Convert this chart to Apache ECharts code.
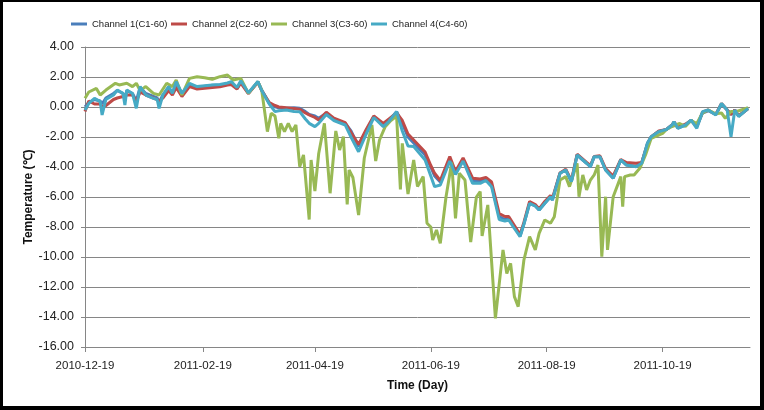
<!DOCTYPE html>
<html><head><meta charset="utf-8">
<script src="https://cdn.jsdelivr.net/npm/echarts@6/dist/echarts.min.js"></script>
<style>html,body{margin:0;padding:0;background:#fff}#c{width:764px;height:410px}</style>
</head><body><div id="c"></div>
<script>
// Day offsets from 2010-12-19 (shared by channels 1, 2, 4)
const mainDays = [
  0,2,5,8,9,11,15,17,20,21,
  22,25,27,29,32,36,38,39,41,44,
  46,48,51,55,59,60,67,71,75,77,
  80,82,86,91,93,97,100,102,106,110,
  113,116,118,121,123,127,131,137,140,144,
  148,152,157,160,164,167,170,173,179,182,
  184,187,192,195,199,204,208,211,214,218,
  221,223,226,229,231,234,237,239,242,245,
  246,250,253,256,259,264,266,268,271,274,
  278,282,285,290,293,296,298,302,306,309,
  310,312,316,319,322,325,328,332,335,338,
  340,342,344,349
];
const ch1 = [
  0.0,0.3,0.5,0.4,0.2,0.6,0.9,1.1,0.9,0.5,
  1.1,0.9,0.4,1.3,0.9,0.7,0.6,0.3,0.8,1.3,
  0.9,1.6,0.9,1.5,1.3,1.36,1.45,1.47,1.5,1.58,
  1.24,1.69,0.91,1.69,1.13,0.24,0.02,-0.05,-0.09,-0.05,
  -0.09,-0.31,-0.5,-0.6,-0.75,-0.42,-0.8,-1.09,-1.6,-2.64,
  -1.6,-0.64,-1.25,-0.9,-0.31,-1.1,-2.0,-2.4,-3.2,-4.0,
  -4.6,-5.0,-3.5,-4.42,-3.5,-4.9,-4.9,-4.87,-5.2,-7.3,
  -7.5,-7.4,-8.0,-8.6,-7.8,-6.42,-6.6,-6.87,-6.42,-5.98,
  -6.2,-4.42,-4.2,-4.98,-3.2,-3.75,-3.98,-3.31,-3.31,-4.2,
  -4.75,-3.53,-3.87,-3.95,-3.75,-2.42,-1.98,-1.64,-1.5,-1.2,
  -1.0,-1.4,-1.2,-0.87,-1.3,-0.4,-0.25,-0.5,0.2,-0.2,
  -0.5,-0.2,-0.6,-0.1
];
const ch2 = [
  -0.3,0.4,0.2,0.2,0.0,0.1,0.5,0.6,0.7,0.6,
  0.8,0.8,0.36,1.0,0.8,0.6,0.5,0.36,0.6,1.1,
  0.8,1.3,0.7,1.36,1.2,1.24,1.3,1.35,1.47,1.5,
  1.2,1.6,0.9,1.65,1.1,0.3,0.1,0.0,-0.05,-0.1,
  -0.15,-0.4,-0.53,-0.7,-0.87,-0.35,-0.75,-1.05,-1.7,-2.5,
  -1.5,-0.6,-1.1,-0.8,-0.4,-0.9,-1.8,-2.2,-3.0,-3.9,
  -4.42,-4.9,-3.3,-4.3,-3.4,-4.75,-4.8,-4.7,-5.0,-7.1,
  -7.3,-7.3,-7.9,-8.5,-7.7,-6.3,-6.5,-6.8,-6.3,-5.9,
  -6.1,-4.4,-4.15,-4.9,-3.15,-3.7,-3.9,-3.3,-3.25,-4.1,
  -4.6,-3.5,-3.7,-3.75,-3.7,-2.5,-2.0,-1.6,-1.5,-1.2,
  -1.0,-1.35,-1.15,-0.9,-1.3,-0.35,-0.2,-0.5,0.24,-0.2,
  -0.5,-0.2,-0.6,-0.1
];
const ch4 = [
  -0.2,0.24,0.58,0.36,-0.53,0.5,0.8,1.13,0.91,0.13,
  1.13,0.9,-0.09,1.36,0.8,0.58,0.5,-0.09,0.8,1.36,
  0.91,1.69,0.91,1.58,1.36,1.4,1.47,1.5,1.6,1.69,
  1.3,1.75,0.95,1.7,1.1,0.2,-0.31,-0.25,-0.2,-0.3,
  -0.31,-0.8,-1.09,-1.31,-1.09,-0.5,-0.9,-1.2,-2.0,-2.98,
  -1.8,-0.7,-1.31,-0.95,-0.31,-1.6,-2.6,-2.64,-3.53,-4.6,
  -5.31,-5.2,-3.6,-4.5,-3.6,-5.09,-5.09,-4.9,-5.31,-7.5,
  -7.6,-7.53,-8.1,-8.64,-7.8,-6.42,-6.6,-6.87,-6.42,-5.98,
  -6.2,-4.42,-4.2,-4.98,-3.2,-3.75,-3.98,-3.31,-3.31,-4.2,
  -4.75,-3.53,-3.87,-3.98,-3.75,-2.42,-1.98,-1.64,-1.5,-1.2,
  -0.98,-1.42,-1.2,-0.87,-1.42,-0.31,-0.2,-0.53,0.24,-0.2,
  -1.98,-0.2,-0.64,-0.09
];
// Channel 3 has its own sampling days
const c3Days = [
  0,2,6,8,11,16,18,22,25,27,
  29,32,36,39,43,46,48,51,55,59,
  63,67,71,75,78,82,86,91,93,96,
  98,100,102,103,105,107,109,111,113,115,
  116,118,119,121,123,126,129,132,134,136,
  138,139,141,144,147,151,153,155,158,161,
  164,166,167,170,173,175,178,180,182,183,
  185,187,190,193,195,197,200,203,206,208,
  209,212,216,217,220,222,224,226,228,231,
  234,237,239,242,245,247,250,253,255,259,
  260,262,264,266,268,270,272,274,275,278,
  282,283,284,287,289,292,295,298,304,306,
  309,313,316,319,322,325,328,332,335,337,
  340,343,349
];
const ch3 = [
  0.58,1.0,1.24,0.8,1.13,1.58,1.47,1.58,1.36,1.58,
  1.1,1.36,0.91,0.8,1.58,1.36,1.8,0.8,1.91,2.02,
  1.95,1.85,2.02,2.13,1.8,1.91,0.91,1.69,1.13,-1.64,
  -0.42,-0.6,-2.09,-1.09,-1.64,-1.09,-1.64,-1.2,-3.98,-3.2,
  -4.6,-7.5,-3.53,-5.6,-3.1,-1.09,-5.75,-1.6,-2.87,-1.98,
  -6.5,-4.2,-4.7,-7.2,-3.4,-1.2,-3.6,-2.2,-1.31,-0.9,
  -0.6,-5.5,-2.42,-5.8,-3.53,-5.3,-4.64,-7.75,-8.0,-8.87,
  -8.2,-9.09,-6.0,-3.7,-7.42,-4.42,-4.87,-9.0,-6.0,-5.64,
  -8.6,-6.53,-14.09,-13.98,-9.53,-11.1,-10.42,-12.64,-13.31,-10.2,
  -8.64,-9.53,-8.42,-7.53,-7.75,-7.31,-4.87,-4.64,-5.31,-3.75,
  -5.98,-4.53,-5.53,-4.87,-4.53,-3.87,-9.98,-5.98,-9.53,-5.98,
  -4.64,-6.64,-4.64,-4.53,-4.53,-4.09,-3.2,-2.09,-1.76,-1.5,
  -1.3,-1.1,-1.3,-0.9,-1.1,-0.4,-0.2,-0.45,-0.4,-0.75,
  -0.3,-0.3,-0.05
];
const seriesNames = ['Channel 1(C1-60)','Channel 2(C2-60)','Channel 3(C3-60)','Channel 4(C4-60)'];
const seriesColors = ['#4A7EBB','#BE4B48','#98B954','#46AAC5'];
const tickLabels = ['2010-12-19','2011-02-19','2011-04-19','2011-06-19','2011-08-19','2011-10-19'];
const axisStart = '2010-12-19', axisEnd = '2011-12-04';

function utc(s){const p=s.split('-').map(Number);return Date.UTC(p[0],p[1]-1,p[2]);}
function dayOf(s){return Math.round((utc(s)-utc(axisStart))/86400000);}
const tickDays = tickLabels.map(dayOf);
function pairs(days,vals){return days.map((d,i)=>[d,vals[i]]);}
const seriesData = [pairs(mainDays,ch1),pairs(mainDays,ch2),pairs(c3Days,ch3),pairs(mainDays,ch4)];

const chart = echarts.init(document.getElementById('c'));
const legendLeft = [66,166,266,366];
chart.setOption({
  animation:false,
  backgroundColor:'#fff',
  legend: seriesNames.map((n,i)=>({
    data:[n], left:legendLeft[i], top:14, icon:'rect', itemWidth:16, itemHeight:3,
    textStyle:{fontSize:9.5, fontFamily:'Liberation Sans', color:'#222'}
  })),
  grid:{left:85, right:14, top:47, bottom:63},
  xAxis:{
    type:'value', min:0, max:dayOf(axisEnd),
    name:'Time (Day)', nameLocation:'middle', nameGap:33,
    nameTextStyle:{fontSize:12, fontWeight:'bold', fontFamily:'Liberation Sans', color:'#111'},
    axisLine:{onZero:false, lineStyle:{color:'#868686', width:1}},
    axisTick:{show:true, length:5, customValues:tickDays, lineStyle:{color:'#868686'}},
    axisLabel:{customValues:tickDays, formatter:v=>tickLabels[tickDays.indexOf(v)]||'', fontSize:11.5, fontFamily:'Liberation Sans', color:'#222', margin:13, hideOverlap:false},
    splitLine:{show:false}
  },
  yAxis:{
    type:'value', min:-16, max:4, interval:2,
    name:'Temperature (℃)', nameLocation:'middle', nameGap:50, nameRotate:90, nameMoveOverlap:false,
    nameTextStyle:{fontSize:12, fontWeight:'bold', fontFamily:'Liberation Sans', color:'#111'},
    axisLine:{show:true, lineStyle:{color:'#868686', width:1}},
    axisTick:{show:true, length:4, lineStyle:{color:'#868686'}},
    axisLabel:{formatter:v=>v.toFixed(2), fontSize:12.5, fontFamily:'Liberation Sans', color:'#222', margin:11},
    splitLine:{show:true, lineStyle:{color:'#868686', width:1}}
  },
  series: seriesNames.map((n,i)=>({
    name:n, type:'line', data:seriesData[i], showSymbol:false, symbol:'none',
    lineStyle:{width:3, color:seriesColors[i]}, itemStyle:{color:seriesColors[i]}, z:2+i
  })),
  graphic:[
    {type:'rect', left:0, top:0, shape:{width:3, height:410}, style:{fill:'#000'}, silent:true},
    {type:'rect', left:0, top:0, shape:{width:764, height:2}, style:{fill:'#000'}, silent:true},
    {type:'rect', right:0, top:0, shape:{width:4, height:410}, style:{fill:'#000'}, silent:true},
    {type:'rect', left:0, bottom:0, shape:{width:764, height:4}, style:{fill:'#000'}, silent:true}
  ]
});
</script></body></html>
